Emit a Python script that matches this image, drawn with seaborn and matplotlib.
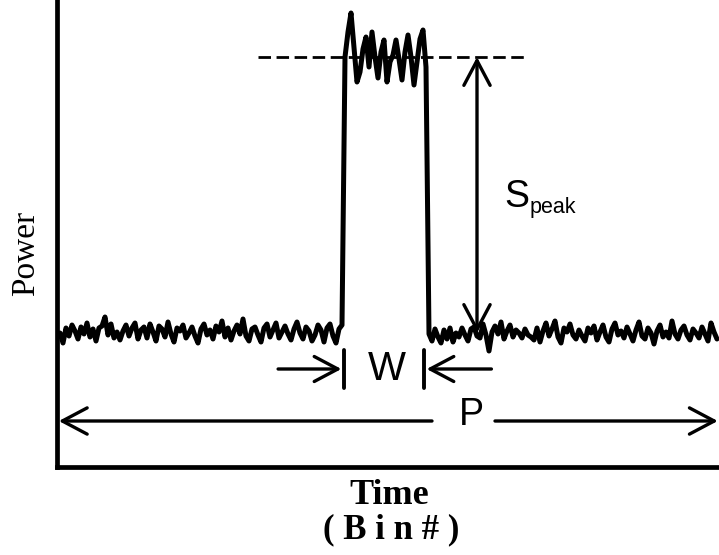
import numpy as np
import pandas as pd
import matplotlib
matplotlib.use("Agg")
import matplotlib.pyplot as plt
import seaborn as sns

# ---- data (power in arbitrary units, time in bins) ----
left_noise = [13.4, 12.4, 13.9, 13.1, 14.2, 13.6, 12.8, 14.0, 13.3, 14.4,
              13.0, 13.8, 12.6, 13.9, 14.1, 15.0, 13.2, 14.3, 12.9, 13.5,
              12.7, 13.6, 14.2, 13.1, 13.9, 14.4, 12.8, 13.7, 14.0, 12.9,
              14.3, 13.5, 12.6, 14.1, 13.8, 13.0, 14.5, 13.3, 12.5, 13.9,
              13.6, 14.2, 12.9, 13.4, 14.0, 13.1, 12.4, 13.8, 14.3, 13.2,
              13.7, 12.8, 14.1, 13.5, 14.6, 13.0, 13.9, 12.7, 13.6, 14.2,
              13.3, 14.8, 13.1, 12.6, 13.8, 14.0, 13.2, 12.5, 13.9, 14.3,
              13.0, 13.7, 14.4, 12.9, 13.5, 14.1, 13.3, 12.7, 13.8, 14.5,
              13.4, 12.8, 14.0, 13.6, 12.6, 13.2, 14.2, 13.7, 12.5, 13.9,
              14.3, 13.1, 12.4, 13.8, 14.2]
pulse = [41.0, 43.5, 45.4, 42.0, 38.5, 39.5, 41.8, 43.0, 40.0, 43.5,
         41.0, 38.9, 41.5, 42.7, 38.5, 40.5, 41.2, 42.7, 40.8, 38.7,
         41.5, 43.2, 41.0, 38.2, 40.5, 42.8, 43.7, 40.0]
right_noise = [13.3, 12.6, 13.8, 13.0, 12.4, 13.7, 12.8, 13.9, 12.5, 13.4,
               13.0, 13.9, 13.2, 12.6, 13.8, 14.0, 13.1, 12.9, 14.3, 13.2,
               11.6, 13.5, 14.1, 13.3, 14.5, 12.8, 13.6, 14.2, 13.0, 13.7,
               13.4, 12.9, 13.8, 13.2, 13.0, 12.7, 13.9, 12.5, 13.6, 14.4,
               13.1, 13.8, 14.6, 13.0, 12.4, 13.9, 13.5, 14.3, 13.2, 12.8,
               13.7, 13.1, 12.6, 13.9, 13.4, 14.1, 12.7, 13.5, 14.2, 13.0,
               12.5, 13.8, 14.4, 13.2, 13.6, 12.9, 14.0, 13.3, 12.6, 13.7,
               14.5, 13.1, 12.8, 13.9, 13.4, 12.3, 13.6, 14.2, 13.0, 13.5,
               12.9, 14.6, 13.3, 12.8, 13.7, 14.1, 13.2, 12.7, 13.8, 13.4,
               12.9, 14.0, 13.3, 12.6, 14.4, 13.5, 12.8]
first_bin = 1
power = left_noise + pulse + right_noise
bins = list(range(first_bin, first_bin + len(power)))
pulse_start = first_bin + len(left_noise)
pulse_end = pulse_start + len(pulse)          # first bin after pulse
peak_level = 41.0
baseline_level = 13.4

ylabel = "Power"
xlabel_top = "Time"
xlabel_bottom = "( B i n # )"

df = pd.DataFrame({"bin": bins, "power": power})

# ---- figure ----
sns.set_style("white")
plt.rcParams["font.family"] = ["Liberation Sans", "DejaVu Sans"]
plt.rcParams["text.color"] = "black"
plt.rcParams["axes.labelcolor"] = "black"

W, H = 719, 555
fig = plt.figure(figsize=(W / 100, H / 100), dpi=100)
ax = fig.add_axes([57 / W, 88 / H, 662 / W, 467 / H])

sns.lineplot(data=df, x="bin", y="power", ax=ax, color="black",
             linewidth=3.6, estimator=None, sort=False)

ax.set_xlim(0, 662 / 3)
ax.set_ylim(0, 46.7)
ax.set_xticks([])
ax.set_yticks([])
ax.set_xlabel("")
ax.set_ylabel("")
for s in ["top", "right"]:
    ax.spines[s].set_visible(False)
for s in ["left", "bottom"]:
    ax.spines[s].set_color("black")
    ax.spines[s].set_linewidth(3.4)

# dashed peak level
ax.plot([67, 156], [peak_level, peak_level], color="black", lw=2.0,
        ls=(0, (4.5, 2.0)), zorder=1)

arrow_kw = dict(color="black", lw=2.4, shrinkA=0, shrinkB=0)
head = "head_length=0.85,head_width=0.45"

# S_peak double arrow
ax.annotate("", xy=(140, peak_level), xytext=(140, baseline_level),
            arrowprops=dict(arrowstyle="<->," + head, mutation_scale=21, **arrow_kw))
ax.text(149, (467 - 207) / 10, "S", fontsize=27, ha="left", va="baseline")
ax.text(157.5, (467 - 213) / 10, "peak", fontsize=15.5, ha="left", va="baseline")

# W arrows
wy = (467 - 369) / 10
x_l = pulse_start - 0.3
x_r = pulse_end - 1.7
ax.annotate("", xy=(x_l - 0.9, wy), xytext=(x_l - 22, wy),
            arrowprops=dict(arrowstyle="->," + head, mutation_scale=20, **arrow_kw))
ax.annotate("", xy=(x_r + 0.9, wy), xytext=(x_r + 22.5, wy),
            arrowprops=dict(arrowstyle="->," + head, mutation_scale=20, **arrow_kw))
ax.plot([x_l, x_l], [(467 - 350) / 10, (467 - 388) / 10], color="black", lw=2.8)
ax.plot([x_r, x_r], [(467 - 350) / 10, (467 - 388) / 10], color="black", lw=2.8)
ax.text((387 - 57) / 3, wy, "W", fontsize=29, ha="center", va="center")

# P arrows
py_ = (467 - 421) / 10
ax.annotate("", xy=(0.6, py_), xytext=((432 - 57) / 3, py_),
            arrowprops=dict(arrowstyle="->," + head, mutation_scale=21, **arrow_kw),
            annotation_clip=False)
ax.annotate("", xy=(662 / 3 - 0.4, py_), xytext=((495 - 57) / 3, py_),
            arrowprops=dict(arrowstyle="->," + head, mutation_scale=21, **arrow_kw),
            annotation_clip=False)
ax.text((471 - 57) / 3, (467 - 415) / 10, "P", fontsize=27, ha="center", va="center")

# axis labels
serif = ["Liberation Serif", "DejaVu Serif"]
fig.text(26 / W, 1 - 253 / H, ylabel, rotation=90, fontsize=24,
         family=serif, ha="center", va="center")
fig.text(389 / W, 1 - 495 / H, xlabel_top, fontsize=26, fontweight="bold",
         family=serif, ha="center", va="center")
fig.text(391 / W, 1 - 530 / H, xlabel_bottom, fontsize=25, fontweight="bold",
         family=serif, ha="center", va="center")

fig.savefig("out.png", dpi=100)
